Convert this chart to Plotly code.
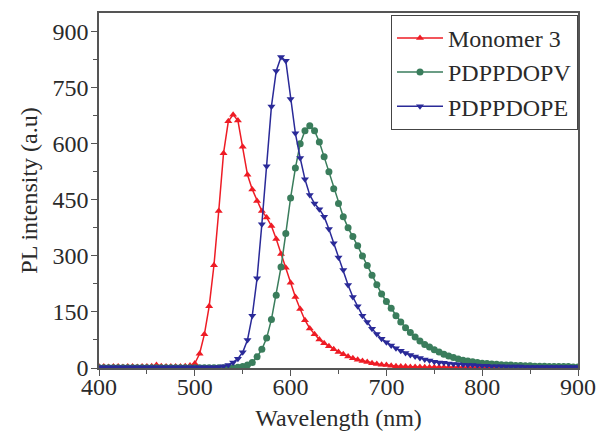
import plotly.graph_objects as go

wavelength = list(range(400, 905, 5))

monomer3 = [
    4, 4, 3, 4, 4, 3, 4, 4, 3, 4, 4, 5, 8, 5, 4, 4, 4, 4, 5, 7,
    12, 38, 90, 165, 275, 420, 575, 660, 678, 662, 592, 517, 478, 447, 420, 403, 380, 345, 305, 268,
    228, 190, 158, 128, 106, 90, 76, 66, 58, 50, 43, 37, 31, 26, 22, 19, 16, 13, 11, 9,
    8, 6, 5, 4, 4, 3, 3, 3, 2, 2, 2, 2, 2, 2, 2, 2, 2, 2, 2, 2,
    2, 2, 2, 2, 2, 2, 2, 2, 2, 2, 2, 2, 2, 2, 2, 2, 2, 2, 2, 2,
    2,
]

pdppdopv = [
    1, 1, 1, 1, 1, 1, 1, 1, 1, 1, 1, 1, 1, 1, 1, 1, 1, 1, 1, 1,
    1, 1, 1, 1, 1, 1, 1, 1, 1, 2, 4, 8, 15, 30, 50, 80, 130, 195, 270, 360,
    455, 535, 600, 635, 648, 635, 605, 565, 525, 480, 440, 405, 375, 352, 327, 300, 274, 248, 223, 198,
    178, 160, 140, 123, 108, 95, 83, 72, 63, 56, 49, 43, 37, 32, 28, 24, 21, 19, 17, 15,
    13, 12, 11, 10, 9, 8, 8, 7, 7, 6, 6, 5, 5, 5, 4, 4, 4, 4, 4, 3,
    3,
]

pdppdope = [
    2, 2, 2, 2, 2, 2, 2, 2, 2, 2, 2, 2, 2, 2, 2, 2, 2, 2, 2, 2,
    2, 2, 2, 2, 2, 3, 5, 8, 15, 25, 42, 75, 140, 240, 385, 540, 700, 795, 832, 822,
    720, 628, 562, 505, 463, 440, 425, 405, 372, 334, 296, 262, 222, 190, 165, 140, 123, 105, 91, 78,
    69, 60, 53, 46, 40, 35, 31, 27, 23, 20, 17, 15, 14, 12, 11, 10, 9, 8, 8, 7,
    6, 6, 5, 5, 5, 4, 4, 4, 4, 3, 3, 3, 3, 3, 3, 3, 3, 3, 3, 3,
    3,
]

series = [
    ("Monomer 3", monomer3, "#ee1c25", "triangle-up"),
    ("PDPPDOPV", pdppdopv, "#3a7d5c", "circle"),
    ("PDPPDOPE", pdppdope, "#2a2a98", "triangle-down"),
]

x_ticks = [400, 500, 600, 700, 800, 900]
y_ticks = [0, 150, 300, 450, 600, 750, 900]

fig = go.Figure()
for name, vals, color, sym in series:
    fig.add_trace(go.Scatter(
        x=wavelength, y=vals, name=name, mode="lines+markers",
        line=dict(color=color, width=1.5),
        marker=dict(symbol=sym, size=7, color=color),
    ))

font_family = "'Liberation Serif', 'Times New Roman', Times, serif"
axis_color = "#555555"
text_color = "#2a2a2a"

fig.update_layout(
    width=596, height=431,
    margin=dict(l=99, r=18, t=13, b=63),
    paper_bgcolor="white", plot_bgcolor="white",
    font=dict(family=font_family, size=24, color=text_color),
    showlegend=True,
    legend=dict(
        x=1, y=0.995, xanchor="right", yanchor="top",
        bgcolor="white", bordercolor="#444444", borderwidth=1,
        font=dict(family=font_family, size=24, color=text_color),
        tracegroupgap=0, itemwidth=46,
    ),
    xaxis=dict(
        range=[400, 900], tickvals=x_ticks, ticktext=[str(v) for v in x_ticks],
        showgrid=False, zeroline=False,
        showline=True, linecolor=axis_color, linewidth=1.5, mirror=True,
        ticks="outside", ticklen=6, tickwidth=1, tickcolor=axis_color,
        minor=dict(dtick=50, tick0=400, ticks="outside", ticklen=4, tickcolor=axis_color, tickwidth=1),
        tickfont=dict(family=font_family, size=24, color=text_color),
        ticklabelstandoff=-10,
        title=dict(text="Wavelength (nm)", font=dict(family=font_family, size=24, color=text_color), standoff=17),
        automargin=False,
    ),
    yaxis=dict(
        range=[0, 950], tickvals=y_ticks, ticktext=[str(v) for v in y_ticks],
        showgrid=False, zeroline=False,
        showline=True, linecolor=axis_color, linewidth=1.5, mirror=True,
        ticks="outside", ticklen=6, tickwidth=1, tickcolor=axis_color,
        minor=dict(dtick=75, tick0=0, ticks="outside", ticklen=4, tickcolor=axis_color, tickwidth=1),
        tickfont=dict(family=font_family, size=24, color=text_color),
        ticklabelstandoff=-2,
        title=dict(text="PL intensity (a.u)", font=dict(family=font_family, size=24, color=text_color), standoff=8),
        automargin=False,
    ),
)

fig.write_html("out.html")
